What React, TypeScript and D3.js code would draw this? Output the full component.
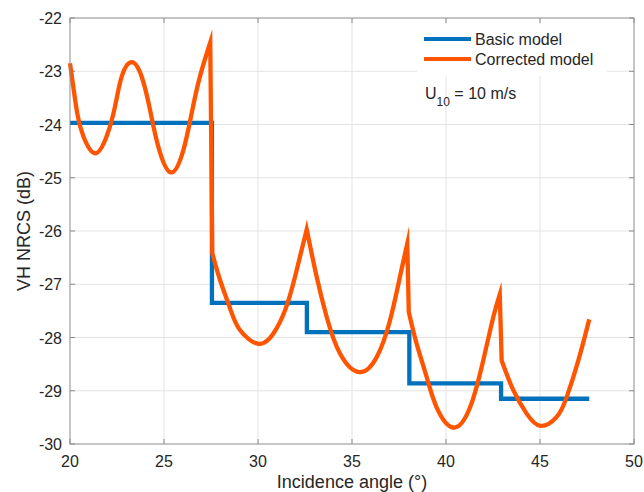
import React from "react";
import * as d3 from "d3";

// Basic model: step levels (angle where each level starts, dB)
const basicAngles = [20, 27.55, 32.6, 38.05, 42.93, 47.62];
const basicValues = [-23.97, -27.35, -27.9, -28.86, -29.15, -29.15];

const corrected1: [number, number][] = [
  [20.0, -22.85], [20.18, -23.3], [20.39, -23.8], [20.71, -24.22], [21.33, -24.54],
  [21.95, -24.22], [22.39, -23.67], [22.75, -23.1], [23.28, -22.83], [23.81, -23.1],
  [24.26, -23.73], [24.7, -24.42], [25.37, -24.9], [26.03, -24.48], [26.47, -23.79],
  [26.91, -23.1], [27.46, -22.46],
];
const corrected2: [number, number][] = [
  [27.57, -26.42], [27.98, -26.92], [28.51, -27.45], [29.04, -27.86], [30.02, -28.12],
  [30.81, -27.93], [31.44, -27.49], [31.97, -26.86], [32.59, -25.97],
];
const corrected3: [number, number][] = [
  [32.59, -25.97], [33.12, -26.86], [33.65, -27.61], [34.36, -28.3], [35.39, -28.65],
  [36.31, -28.37], [37.02, -27.68], [37.55, -26.86], [37.94, -26.24],
];
const corrected4: [number, number][] = [
  [38.02, -27.52], [38.44, -28.12], [38.97, -28.74], [39.5, -29.31], [40.39, -29.69],
  [41.28, -29.31], [41.98, -28.43], [42.52, -27.61], [42.86, -27.19],
];
const corrected5: [number, number][] = [
  [42.96, -28.43], [43.58, -28.99], [44.29, -29.43], [45.03, -29.66], [45.89, -29.49],
  [46.42, -29.12], [47.04, -28.43], [47.62, -27.66],
];

const xTicks = [20, 25, 30, 35, 40, 45, 50];
const yTicks = [-30, -29, -28, -27, -26, -25, -24, -23, -22];
const seriesNames = ["Basic model", "Corrected model"];
const colors = ["#0072bd", "#ff5400"];

const W = 644;
const H = 492;
const left = 70, right = 634, top = 18, bottom = 444;
const font = "'Liberation Sans', Arial, Helvetica, sans-serif";

export default function App() {
  const x = d3.scaleLinear().domain([20, 50]).range([left, right]);
  const y = d3.scaleLinear().domain([-30, -22]).range([bottom, top]);

  const stepLine = d3
    .line<number>()
    .x((_, i) => x(basicAngles[i]))
    .y((d) => y(d))
    .curve(d3.curveStepAfter);

  const smooth = d3
    .line<[number, number]>()
    .x((d) => x(d[0]))
    .y((d) => y(d[1]))
    .curve(d3.curveNatural);

  // join the branches into one path so the jumps and cusps keep sharp joins
  const correctedPath = [corrected1, corrected2, corrected3, corrected4, corrected5]
    .map((p, i) => {
      const s = smooth(p) || "";
      return i === 0 ? s : s.replace(/^M/, "L");
    })
    .join("");

  const tickLen = 5;
  const axisColor = "#8c8c8c";
  const textColor = "#262626";

  return (
    <svg
      width={W}
      height={H}
      style={{ position: "absolute", left: 0, top: 0, background: "#fff" }}
      fontFamily={font}
    >
      <rect x={0} y={0} width={W} height={H} fill="#fff" />
      {/* grid */}
      <g stroke="#e3e3e3" strokeWidth={1}>
        {xTicks.slice(1, -1).map((t) => (
          <line key={"gx" + t} x1={x(t)} x2={x(t)} y1={top} y2={bottom} />
        ))}
        {yTicks.slice(1, -1).map((t) => (
          <line key={"gy" + t} x1={left} x2={right} y1={y(t)} y2={y(t)} />
        ))}
      </g>

      {/* ticks */}
      <g stroke={axisColor} strokeWidth={1}>
        {xTicks.map((t) => (
          <g key={"tx" + t}>
            <line x1={x(t)} x2={x(t)} y1={bottom} y2={bottom - tickLen} />
            <line x1={x(t)} x2={x(t)} y1={top} y2={top + tickLen} />
          </g>
        ))}
        {yTicks.map((t) => (
          <g key={"ty" + t}>
            <line x1={left} x2={left + tickLen} y1={y(t)} y2={y(t)} />
            <line x1={right} x2={right - tickLen} y1={y(t)} y2={y(t)} />
          </g>
        ))}
      </g>

      {/* data */}
      <path
        d={stepLine(basicValues) || ""}
        fill="none"
        stroke={colors[0]}
        strokeWidth={4.3}
        strokeLinejoin="miter"
      />
      <path
        d={correctedPath}
        fill="none"
        stroke={colors[1]}
        strokeWidth={4.3}
        strokeLinejoin="miter"
        strokeMiterlimit={10}
      />

      {/* box */}
      <rect
        x={left}
        y={top}
        width={right - left}
        height={bottom - top}
        fill="none"
        stroke={axisColor}
        strokeWidth={1}
      />

      {/* tick labels */}
      <g fontSize={16} fill={textColor}>
        {xTicks.map((t) => (
          <text key={"lx" + t} x={x(t)} y={bottom + 23} textAnchor="middle">
            {t}
          </text>
        ))}
        {yTicks.map((t) => (
          <text key={"ly" + t} x={left - 8} y={y(t) + 6} textAnchor="end">
            {t}
          </text>
        ))}
      </g>

      {/* axis labels */}
      <text
        x={(left + right) / 2}
        y={488}
        textAnchor="middle"
        fontSize={18}
        fill={textColor}
      >
        Incidence angle (°)
      </text>
      <text
        transform={`translate(30,${(top + bottom) / 2}) rotate(-90)`}
        textAnchor="middle"
        fontSize={18}
        fill={textColor}
      >
        VH NRCS (dB)
      </text>

      {/* legend */}
      <rect x={417} y={24} width={190} height={52} fill="#fff" />
      {seriesNames.map((name, i) => (
        <g key={name}>
          <line
            x1={424}
            x2={471}
            y1={39 + i * 20}
            y2={39 + i * 20}
            stroke={colors[i]}
            strokeWidth={4}
          />
          <text x={475} y={45 + i * 20} fontSize={16} fill={textColor}>
            {name}
          </text>
        </g>
      ))}

      {/* annotation */}
      <text x={425} y={99} fontSize={16} fill={textColor}>
        U
        <tspan fontSize={12} dy={7}>10</tspan>
        <tspan dy={-7}> = 10 m/s</tspan>
      </text>
    </svg>
  );
}
